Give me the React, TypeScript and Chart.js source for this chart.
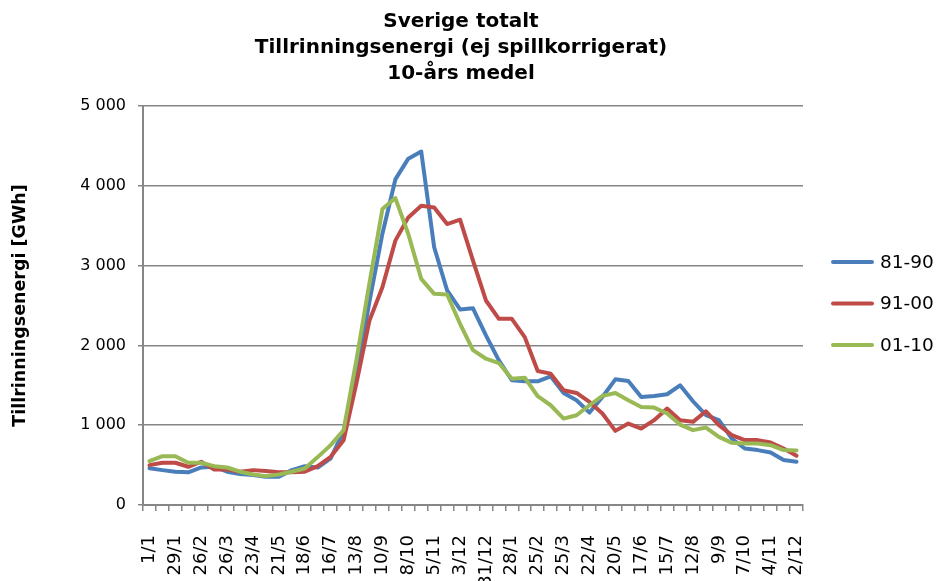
import React, { useEffect, useRef } from 'react';
import { Chart, registerables } from 'chart.js';

Chart.register(...registerables);

const titleLines = ['Sverige totalt', 'Tillrinningsenergi (ej spillkorrigerat)', '10-års medel'];
const yAxisTitle = 'Tillrinningsenergi [GWh]';

const dates = [
  '1/1', '15/1', '29/1', '12/2', '26/2', '12/3', '26/3', '9/4', '23/4', '7/5',
  '21/5', '4/6', '18/6', '2/7', '16/7', '30/7', '13/8', '27/8', '10/9', '24/9',
  '8/10', '22/10', '5/11', '19/11', '3/12', '17/12', '31/12', '14/1', '28/1', '11/2',
  '25/2', '11/3', '25/3', '8/4', '22/4', '6/5', '20/5', '3/6', '17/6', '1/7',
  '15/7', '29/7', '12/8', '26/8', '9/9', '23/9', '7/10', '21/10', '4/11', '18/11',
  '2/12',
];

const s8190 = [
  460, 437, 417, 410, 470, 480, 417, 387, 375, 354,
  354, 437, 487, 470, 583, 930, 1620, 2550, 3400, 4080,
  4340, 4430, 3230, 2690, 2450, 2465, 2125, 1813, 1563, 1550,
  1550, 1613, 1404, 1313, 1158, 1354, 1575, 1554, 1354, 1367,
  1388, 1500, 1300, 1125, 1063, 833, 708, 688, 658, 563,
  542,
];

const s9100 = [
  500, 529, 529, 479, 542, 446, 446, 417, 437, 425,
  410, 410, 417, 487, 604, 812, 1530, 2313, 2729, 3313,
  3604, 3750, 3729, 3521, 3575, 3063, 2563, 2333, 2333, 2104,
  1679, 1646, 1438, 1404, 1292, 1146, 929, 1021, 958, 1063,
  1208, 1063, 1042, 1175, 1000, 875, 813, 813, 783, 708,
  617,
];

const s0110 = [
  550, 612, 612, 529, 529, 487, 470, 417, 383, 362,
  383, 417, 458, 600, 750, 937, 1825, 2780, 3708, 3846,
  3396, 2833, 2646, 2638, 2271, 1940, 1833, 1779, 1583, 1596,
  1363, 1250, 1083, 1125, 1250, 1367, 1404, 1313, 1229, 1221,
  1146, 1008, 938, 971, 854, 779, 771, 771, 750, 688,
  683,
];

const seriesNames = ['81-90', '91-00', '01-10'];
const seriesColors = ['#4A7EBB', '#BE4B48', '#98B954'];

const FONT = '"DejaVu Sans", Verdana, sans-serif';

function fmt(v: number): string {
  if (v >= 1000) {
    const th = Math.floor(v / 1000);
    const rest = String(v % 1000).padStart(3, '0');
    return `${th} ${rest}`;
  }
  return String(v);
}

const overlayPlugin = {
  id: 'overlay',
  afterDraw(chart: any) {
    const ctx = chart.ctx;
    ctx.save();
    ctx.fillStyle = '#000';
    ctx.textAlign = 'center';
    ctx.textBaseline = 'middle';
    ctx.font = `bold 20px ${FONT}`;
    titleLines.forEach((t, i) => ctx.fillText(t, 461, 22 + i * 26));

    chart.data.datasets.forEach((ds: any, i: number) => {
      const y = 262 + i * 41.5;
      ctx.strokeStyle = ds.borderColor;
      ctx.lineWidth = 4;
      ctx.lineCap = 'round';
      ctx.beginPath();
      ctx.moveTo(833, y);
      ctx.lineTo(872, y);
      ctx.stroke();
      ctx.textAlign = 'left';
      ctx.fillStyle = '#000';
      ctx.font = `18.5px ${FONT}`;
      ctx.fillText(ds.label, 880, y + 1);
    });
    ctx.restore();
  },
};

export default function App() {
  const ref = useRef<HTMLCanvasElement | null>(null);

  useEffect(() => {
    if (!ref.current) return;
    const data = [s8190, s9100, s0110];
    const chart = new Chart(ref.current, {
      type: 'line',
      data: {
        labels: dates,
        datasets: data.map((d, i) => ({
          label: seriesNames[i],
          data: d,
          borderColor: seriesColors[i],
          backgroundColor: seriesColors[i],
          borderWidth: 4,
          pointRadius: 0,
          tension: 0,
          borderJoinStyle: 'round' as const,
          borderCapStyle: 'round' as const,
          order: 3 - i,
        })),
      },
      options: {
        responsive: false,
        animation: false,
        layout: { padding: { top: 106, right: 136, bottom: 0, left: 0 } },
        plugins: {
          legend: { display: false },
          title: { display: false },
          tooltip: { enabled: false },
        },
        scales: {
          x: {
            type: 'category',
            offset: true,
            grid: {
              display: true,
              drawOnChartArea: false,
              drawTicks: true,
              tickLength: 6,
              offset: true,
              color: '#868686',
              lineWidth: 1.5,
            },
            border: { display: true, color: '#868686', width: 2 },
            ticks: {
              autoSkip: false,
              minRotation: 90,
              maxRotation: 90,
              padding: 24,
              color: '#000',
              font: { family: FONT, size: 18 },
              callback: (_v: any, i: number) => (i % 2 === 0 ? dates[i] : ''),
            },
            afterFit: (s: any) => {
              s.height = 76;
            },
          },
          y: {
            min: 0,
            max: 5000,
            ticks: {
              stepSize: 1000,
              padding: 12,
              color: '#000',
              font: { family: FONT, size: 16 },
              callback: (v: any) => fmt(Number(v)),
            },
            grid: {
              color: '#868686',
              lineWidth: 1.5,
              drawTicks: true,
              tickLength: 5,
            },
            border: { display: true, color: '#868686', width: 2 },
            title: {
              display: true,
              text: yAxisTitle,
              color: '#000',
              font: { family: FONT, size: 17.5, weight: 'bold' },
              padding: { top: 10, bottom: 0 },
            },
            afterFit: (s: any) => {
              s.width = 143;
            },
          },
        },
      },
      plugins: [overlayPlugin],
    });
    return () => chart.destroy();
  }, []);

  return (
    <div style={{ position: 'absolute', left: 0, top: 0, width: 939, height: 581, background: '#fff' }}>
      <canvas ref={ref} width={939} height={581} />
    </div>
  );
}
